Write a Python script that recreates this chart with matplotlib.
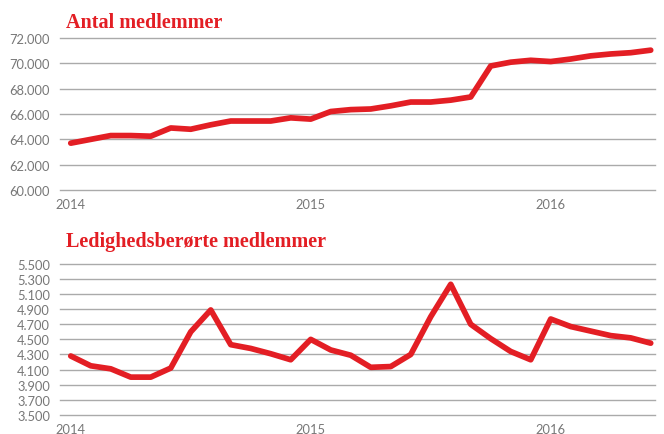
import matplotlib.pyplot as plt
import numpy as np

# månedlige tal, jan 2014 - jun 2016
antal = [63700, 64000, 64300, 64300, 64250, 64900, 64800, 65150, 65450, 65450,
         65450, 65700, 65600, 66200, 66350, 66400, 66650, 66950, 66950, 67100,
         67350, 69800, 70100, 70250, 70150, 70350, 70600, 70750, 70850, 71050]
ledige = [4280, 4150, 4110, 4000, 4000, 4120, 4600, 4890, 4430, 4380,
          4310, 4230, 4500, 4360, 4290, 4130, 4140, 4300, 4800, 5230,
          4700, 4510, 4340, 4230, 4770, 4670, 4610, 4550, 4520, 4450]
aar = ['2014', '2015', '2016']

red = '#e31e24'
grid = '#aaaaaa'
txt = '#777777'

def dk(v):
    return f'{v:,.0f}'.replace(',', '.')

fig = plt.figure(figsize=(6.64, 4.35), dpi=100)
ax1 = fig.add_axes([0.090, 0.561, 0.896, 0.349])
ax2 = fig.add_axes([0.090, 0.044, 0.896, 0.347])

panels = [
    (ax1, antal, np.arange(60000, 72001, 2000), 'Antal medlemmer', 8),
    (ax2, ledige, np.arange(3500, 5501, 200), 'Ledighedsberørte medlemmer', 13),
]

for ax, data, yt, title, tpad in panels:
    x = np.arange(len(data))
    ax.plot(x, data, color=red, lw=4.1, solid_capstyle='round', solid_joinstyle='round', zorder=3)
    ax.set_yticks(yt)
    ax.set_yticklabels([dk(v) for v in yt], fontfamily='Lato', fontsize=9.3, color=txt)
    ax.set_ylim(yt[0], yt[-1])
    ax.set_xticks([0, 12, 24])
    ax.set_xticklabels(aar, fontfamily='Lato', fontsize=9.3, color=txt)
    ax.set_xlim(-0.55, 29.2)
    ax.grid(axis='y', color=grid, lw=1)
    for gl in ax.get_ygridlines():
        gl.set_clip_on(False)
    ax.set_axisbelow(True)
    for s in ax.spines.values():
        s.set_visible(False)
    ax.tick_params(axis='x', length=0, pad=6)
    ax.tick_params(axis='y', length=0, pad=7)
    ax.set_title(title, loc='left', x=0.01, fontfamily='Liberation Serif', fontweight='bold',
                 fontsize=14.5, color=red, pad=tpad)

fig.savefig('out.png', dpi=100)
